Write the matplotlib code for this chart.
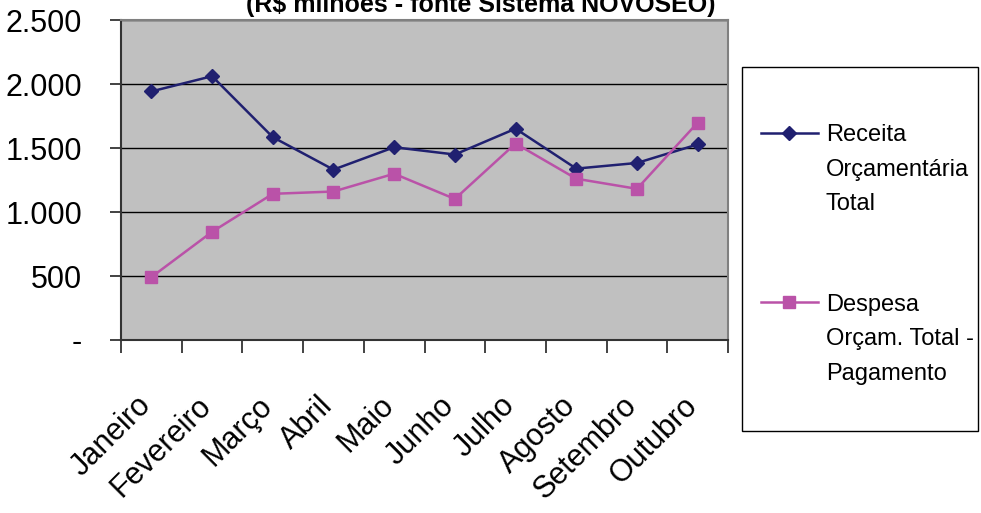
import matplotlib
matplotlib.use('Agg')
import matplotlib.pyplot as plt
import matplotlib.transforms as mtransforms
import numpy as np
from matplotlib.lines import Line2D
from matplotlib.patches import Rectangle
from matplotlib.ticker import FuncFormatter, MultipleLocator

plt.rcParams['font.family'] = ['Liberation Sans', 'DejaVu Sans']

# dados (R$ milhões)
meses = ['Janeiro', 'Fevereiro', 'Março', 'Abril', 'Maio', 'Junho',
         'Julho', 'Agosto', 'Setembro', 'Outubro']
receita = [1942, 2061, 1585, 1331, 1506, 1449, 1651, 1339, 1383, 1528]
despesa = [491, 845, 1142, 1160, 1299, 1102, 1535, 1260, 1181, 1698]

titulo = '(R$ milhões - fonte Sistema NOVOSEO)'
legenda_receita = ['Receita', 'Orçamentária', 'Total']
legenda_despesa = ['Despesa', 'Orçam. Total -', 'Pagamento']

cor_receita = '#202070'
cor_despesa = '#BA52A8'

fig = plt.figure(figsize=(9.81, 5.13), dpi=100)
ax = fig.add_axes([121/981, 1 - 340/513, (728 - 121)/981, (340 - 20)/513])
ax.set_facecolor('#C0C0C0')

x = np.arange(len(meses))
l_rec, = ax.plot(x, receita, color=cor_receita, lw=1.8, marker='D', ms=7.5,
                 mec=cor_receita, mfc=cor_receita)
l_desp, = ax.plot(x, despesa, color=cor_despesa, lw=1.8, marker='s', ms=8.5,
                  mec=cor_despesa, mfc=cor_despesa)

ax.set_xlim(-0.5, len(meses) - 0.5)
ax.set_ylim(0, 2500)
ax.yaxis.set_major_locator(MultipleLocator(500))
ax.yaxis.set_major_formatter(FuncFormatter(
    lambda v, p: '-' if v == 0 else f'{v:,.0f}'.replace(',', '.')))
ax.yaxis.grid(True, color='black', lw=1)
ax.set_axisbelow(True)

ax.set_xticks(x)
ax.set_xticklabels(meses)
ax.set_xticks(np.arange(-0.5, len(meses), 1), minor=True)
ax.tick_params(axis='x', which='major', length=0, pad=44, labelsize=22)
ax.tick_params(axis='x', which='minor', length=9.5, width=1.2, color='#222222')
ax.tick_params(axis='y', length=8, width=1.2, color='#222222', pad=20, labelsize=22)
desloc = mtransforms.ScaledTranslation(-5/100, 0, fig.dpi_scale_trans)
for lbl in ax.get_xticklabels():
    lbl.set_rotation(45)
    lbl.set_ha('right')
    lbl.set_va('center')
    lbl.set_rotation_mode('anchor')
    lbl.set_transform(lbl.get_transform() + desloc)

for s in ['left', 'bottom']:
    ax.spines[s].set_color('#333333')
    ax.spines[s].set_linewidth(1.5)
for s in ['top', 'right']:
    ax.spines[s].set_color('#808080')
    ax.spines[s].set_linewidth(1.5)

fig.text(481/981, 1 - 12/513, titulo, ha='center', va='baseline',
         fontsize=18, fontweight='bold')

# caixa da legenda
fig.add_artist(Rectangle((742/981, 1 - 431/513), 236/981, 364/513,
                         transform=fig.transFigure, facecolor='white',
                         edgecolor='black', lw=1))

vazio = Line2D([], [], linestyle='none')
handles = [l_rec, vazio, vazio, vazio, vazio, l_desp, vazio, vazio]
labels = legenda_receita + ['', ''] + legenda_despesa
leg = fig.legend(handles, labels, loc='upper left',
                 bbox_to_anchor=(761/981, 1 - 124/513), frameon=False,
                 fontsize=17, borderpad=0, borderaxespad=0,
                 handlelength=2.4, handletextpad=0.34, labelspacing=0.53)
for t in leg.get_texts()[3:5]:
    t.set_fontsize(14.5)

fig.savefig('out.png', dpi=100)
